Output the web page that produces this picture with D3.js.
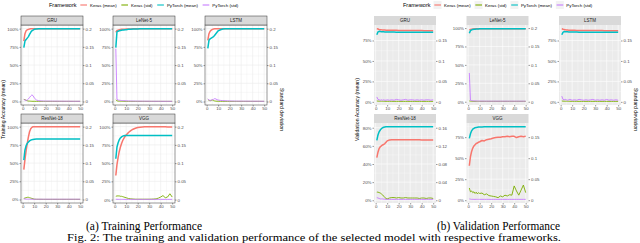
<!DOCTYPE html>
<html>
<head>
<meta charset="utf-8">
<script src="https://cdn.jsdelivr.net/npm/d3@7"></script>
<style>
body{margin:0;background:#fff}
svg{display:block}
text{font-family:"Liberation Sans",Arial,sans-serif}
.cap{font-family:"Liberation Serif","Times New Roman",serif}
</style>
</head>
<body>
<svg id="fig" width="640" height="243"></svg>
<script>

var epochs = [1,2,3,4,5,6,7,8,9,10, 12,14,16,18,20,22,24,26,28,30, 32,34,36,38,40,42,44,46,48,50];
var seriesNames = ["Keras (mean)", "Keras (std)", "PyTorch (mean)", "PyTorch (std)"];
var xTicks = [0, 10, 20, 30, 40, 50];
var accBreaks = [0, 0.25, 0.5, 0.75, 1];
var accBreaksResnetVal = [0, 0.2, 0.4, 0.6, 0.8];

// training
var trGruKerasMean = [0.83,0.93,0.97,0.985,0.99,0.995,0.998,1,1,1, 1,1,1,1,1,1,1,1,1,1, 1,1,1,1,1,1,1,1,1,1];
var trGruKerasStd = [0.006,0.005,0.003,0.002,0.0012,0.001,0.0008,0.0006,0.0005,0.0005, 0.0004,0.0004,0.0003,0.0003,0.0003,0.0003,0.0003,0.0003,0.0003,0.0003, 0.0003,0.0003,0.0003,0.0003,0.0003,0.0003,0.0003,0.0003,0.0003,0.0003];
var trGruTorchMean = [0.74,0.83,0.85,0.87,0.89,0.92,0.95,0.97,0.98,0.99, 0.995,0.998,1,1,1,1,1,1,1,1, 1,1,1,1,1,1,1,1,1,1];
var trGruTorchStd = [0.005,0.004,0.003,0.004,0.007,0.011,0.015,0.018,0.016,0.01, 0.004,0.002,0.0015,0.0012,0.001,0.001,0.001,0.0009,0.0009,0.0008, 0.0008,0.0008,0.0007,0.0007,0.0007,0.0007,0.0006,0.0006,0.0006,0.0006];

var trLenetKerasMean = [0.95,0.975,0.98,0.985,0.988,0.99,0.991,0.992,0.993,0.994, 0.995,0.996,0.997,0.998,0.998,0.999,0.999,1,1,1, 1,1,1,1,1,1,1,1,1,1];
var trLenetKerasStd = [0.005,0.002,0.0012,0.001,0.0008,0.0007,0.0006,0.0006,0.0005,0.0005, 0.0004,0.0004,0.0004,0.0004,0.0004,0.0004,0.0004,0.0004,0.0004,0.0004, 0.0004,0.0004,0.0004,0.0004,0.0004,0.0004,0.0004,0.0004,0.0004,0.0004];
var trLenetTorchMean = [0.74,0.955,0.965,0.97,0.975,0.978,0.98,0.982,0.984,0.986, 0.99,0.992,0.994,0.995,0.996,0.997,0.998,0.998,0.999,0.999, 1,1,1,1,1,1,1,1,1,1];
var trLenetTorchStd = [0.145,0.006,0.004,0.0035,0.003,0.0028,0.0025,0.0022,0.002,0.0018, 0.0015,0.0013,0.0012,0.0011,0.001,0.001,0.0009,0.0009,0.0008,0.0008, 0.0008,0.0007,0.0007,0.0007,0.0007,0.0006,0.0006,0.0006,0.0006,0.0006];

var trLstmKerasMean = [0.84,0.93,0.965,0.98,0.99,0.995,0.997,0.998,0.999,1, 1,1,1,1,1,1,1,1,1,1, 1,1,1,1,1,1,1,1,1,1];
var trLstmKerasStd = [0.006,0.003,0.002,0.003,0.004,0.0025,0.0015,0.001,0.0008,0.0007, 0.0006,0.0005,0.0005,0.0004,0.0004,0.0004,0.0004,0.0004,0.0004,0.0004, 0.0004,0.0004,0.0004,0.0004,0.0004,0.0004,0.0004,0.0004,0.0004,0.0004];
var trLstmTorchMean = [0.73,0.84,0.86,0.87,0.88,0.89,0.91,0.93,0.95,0.97, 0.985,0.995,0.998,1,1,1,1,1,1,1, 1,1,1,1,1,1,1,1,1,1];
var trLstmTorchStd = [0.007,0.004,0.003,0.004,0.005,0.006,0.008,0.007,0.005,0.004, 0.003,0.0025,0.002,0.0018,0.0015,0.0013,0.0012,0.0011,0.001,0.001, 0.001,0.0009,0.0009,0.0009,0.0008,0.0008,0.0008,0.0008,0.0007,0.0007];

var trResnetKerasMean = [0.41,0.55,0.67,0.77,0.86,0.93,0.97,0.99,0.998,1, 1,1,1,1,1,1,1,1,1,1, 1,1,1,1,1,1,1,1,1,1];
var trResnetKerasStd = [0.003,0.004,0.005,0.006,0.006,0.005,0.004,0.003,0.002,0.001, 0.0006,0.0005,0.0005,0.0004,0.0004,0.0004,0.0004,0.0004,0.0004,0.0004, 0.0004,0.0004,0.0004,0.0004,0.0004,0.0004,0.0004,0.0004,0.0004,0.0004];
var trResnetTorchMean = [0.54,0.68,0.74,0.77,0.79,0.805,0.815,0.82,0.825,0.828, 0.83,0.83,0.83,0.83,0.83,0.83,0.83,0.83,0.83,0.83, 0.83,0.83,0.83,0.83,0.83,0.83,0.83,0.83,0.83,0.83];
var trResnetTorchStd = [0.002,0.0015,0.0012,0.001,0.001,0.0009,0.0009,0.0008,0.0008,0.0008, 0.0008,0.0008,0.0008,0.0008,0.0008,0.0008,0.0008,0.0008,0.0008,0.0008, 0.0008,0.0008,0.0008,0.0008,0.0008,0.0008,0.0008,0.0008,0.0008,0.0008];

var trVggKerasMean = [0.33,0.48,0.58,0.66,0.72,0.77,0.81,0.84,0.865,0.885, 0.92,0.945,0.965,0.978,0.988,0.993,0.996,0.998,0.999,1, 1,1,1,1,0.999,0.998,0.997,0.996,0.995,0.995];
var trVggKerasStd = [0.009,0.01,0.01,0.01,0.009,0.009,0.008,0.007,0.006,0.005, 0.003,0.002,0.0015,0.001,0.001,0.001,0.001,0.001,0.001,0.001, 0.0012,0.0015,0.002,0.004,0.007,0.011,0.005,0.007,0.016,0.007];
var trVggTorchMean = [0.56,0.72,0.78,0.82,0.845,0.86,0.87,0.875,0.878,0.88, 0.88,0.88,0.88,0.88,0.88,0.88,0.88,0.88,0.88,0.88, 0.88,0.88,0.88,0.88,0.88,0.88,0.88,0.88,0.88,0.88];
var trVggTorchStd = [0.001,0.0008,0.0007,0.0006,0.0006,0.0006,0.0006,0.0006,0.0006,0.0006, 0.0006,0.0006,0.0006,0.0006,0.0006,0.0006,0.0006,0.0006,0.0006,0.0006, 0.0006,0.0006,0.0006,0.0006,0.0006,0.0006,0.0006,0.0006,0.0006,0.0006];

// validation
var vaGruKerasMean = [0.895,0.89,0.885,0.882,0.88,0.879,0.878,0.877,0.876,0.876, 0.875,0.875,0.874,0.874,0.873,0.873,0.873,0.872,0.872,0.872, 0.872,0.871,0.871,0.871,0.871,0.87,0.87,0.87,0.87,0.87];
var vaGruKerasStd = [0.002,0.0018,0.0016,0.0015,0.0015,0.0014,0.0014,0.0014,0.0013,0.0013, 0.0013,0.0013,0.0012,0.0012,0.0012,0.0012,0.0012,0.0012,0.0012,0.0012, 0.0012,0.0012,0.0012,0.0012,0.0012,0.0012,0.0012,0.0012,0.0012,0.0012];
var vaGruTorchMean = [0.82,0.855,0.862,0.86,0.858,0.857,0.856,0.855,0.855,0.854, 0.854,0.853,0.853,0.852,0.852,0.852,0.851,0.851,0.851,0.85, 0.85,0.85,0.85,0.85,0.85,0.85,0.85,0.85,0.85,0.85];
var vaGruTorchStd = [0.012,0.006,0.005,0.004,0.005,0.004,0.005,0.004,0.004,0.005, 0.004,0.005,0.004,0.006,0.005,0.004,0.005,0.006,0.004,0.005, 0.005,0.004,0.005,0.004,0.005,0.004,0.005,0.005,0.004,0.005];

var vaLenetKerasMean = [0.975,0.982,0.985,0.987,0.988,0.989,0.99,0.99,0.99,0.991, 0.991,0.991,0.991,0.991,0.992,0.992,0.992,0.992,0.992,0.992, 0.992,0.992,0.992,0.992,0.992,0.992,0.992,0.992,0.992,0.992];
var vaLenetKerasStd = [0.002,0.0015,0.0012,0.001,0.001,0.001,0.001,0.001,0.001,0.001, 0.001,0.001,0.001,0.001,0.001,0.001,0.001,0.001,0.001,0.001, 0.001,0.001,0.001,0.001,0.001,0.001,0.001,0.001,0.001,0.001];
var vaLenetTorchMean = [0.93,0.965,0.975,0.98,0.983,0.985,0.986,0.987,0.988,0.989, 0.99,0.99,0.99,0.99,0.99,0.99,0.99,0.99,0.99,0.99, 0.99,0.99,0.99,0.99,0.99,0.99,0.99,0.99,0.99,0.99];
var vaLenetTorchStd = [0.078,0.004,0.003,0.0025,0.002,0.002,0.002,0.0018,0.0018,0.0017, 0.0016,0.0016,0.0015,0.0015,0.0015,0.0015,0.0015,0.0015,0.0015,0.0015, 0.0015,0.0015,0.0015,0.0015,0.0015,0.0015,0.0015,0.0015,0.0015,0.0015];

var vaLstmKerasMean = [0.895,0.888,0.884,0.88,0.878,0.877,0.876,0.875,0.875,0.874, 0.874,0.873,0.873,0.873,0.872,0.872,0.872,0.872,0.871,0.871, 0.871,0.871,0.871,0.87,0.87,0.87,0.87,0.87,0.87,0.87];
var vaLstmKerasStd = [0.002,0.0018,0.0016,0.0015,0.0015,0.0014,0.0014,0.0014,0.0013,0.0013, 0.0013,0.0013,0.0012,0.0012,0.0012,0.0012,0.0012,0.0012,0.0012,0.0012, 0.0012,0.0012,0.0012,0.0012,0.0012,0.0012,0.0012,0.0012,0.0012,0.0012];
var vaLstmTorchMean = [0.82,0.85,0.86,0.858,0.857,0.856,0.855,0.855,0.854,0.854, 0.853,0.853,0.852,0.852,0.852,0.851,0.851,0.851,0.85,0.85, 0.85,0.85,0.85,0.85,0.85,0.85,0.85,0.85,0.85,0.85];
var vaLstmTorchStd = [0.014,0.006,0.005,0.006,0.005,0.004,0.005,0.006,0.005,0.004, 0.005,0.004,0.006,0.005,0.004,0.005,0.004,0.005,0.006,0.004, 0.005,0.004,0.005,0.004,0.006,0.004,0.005,0.004,0.005,0.004];

var vaResnetKerasMean = [0.47,0.53,0.57,0.59,0.60,0.61,0.615,0.625,0.64,0.655, 0.665,0.668,0.668,0.668,0.668,0.668,0.668,0.667,0.667,0.667, 0.667,0.667,0.667,0.667,0.666,0.666,0.666,0.666,0.666,0.666];
var vaResnetKerasStd = [0.018,0.018,0.017,0.016,0.014,0.012,0.009,0.006,0.004,0.003, 0.005,0.006,0.006,0.005,0.006,0.005,0.005,0.006,0.005,0.005, 0.005,0.005,0.005,0.004,0.005,0.005,0.004,0.005,0.005,0.004];
var vaResnetTorchMean = [0.66,0.72,0.755,0.775,0.79,0.8,0.805,0.808,0.81,0.81, 0.812,0.812,0.812,0.812,0.812,0.812,0.812,0.812,0.812,0.812, 0.812,0.812,0.812,0.812,0.812,0.812,0.812,0.812,0.812,0.812];
var vaResnetTorchStd = [0.006,0.005,0.004,0.003,0.003,0.003,0.0025,0.0025,0.002,0.002, 0.002,0.002,0.002,0.002,0.002,0.002,0.002,0.002,0.002,0.002, 0.002,0.002,0.002,0.002,0.002,0.002,0.002,0.002,0.002,0.002];

var vaVggKerasMean = [0.41,0.52,0.58,0.62,0.645,0.66,0.675,0.68,0.69,0.695, 0.71,0.705,0.72,0.725,0.73,0.74,0.745,0.75,0.75,0.755, 0.755,0.76,0.755,0.76,0.76,0.745,0.755,0.76,0.755,0.76];
var vaVggKerasStd = [0.029,0.02,0.022,0.018,0.02,0.016,0.019,0.015,0.018,0.016, 0.017,0.013,0.015,0.011,0.01,0.009,0.008,0.006,0.01,0.008, 0.012,0.01,0.013,0.012,0.034,0.022,0.012,0.024,0.036,0.018];
var vaVggTorchMean = [0.735,0.79,0.825,0.845,0.855,0.862,0.866,0.868,0.87,0.871, 0.872,0.873,0.874,0.874,0.875,0.875,0.875,0.875,0.875,0.875, 0.875,0.875,0.875,0.875,0.875,0.875,0.875,0.875,0.875,0.875];
var vaVggTorchStd = [0.003,0.0025,0.002,0.002,0.002,0.002,0.002,0.002,0.002,0.002, 0.002,0.002,0.002,0.002,0.002,0.002,0.002,0.002,0.002,0.002, 0.002,0.002,0.002,0.002,0.002,0.002,0.002,0.002,0.002,0.002];

/* figure layout */
var colors = d3.scaleOrdinal().domain(seriesNames).range(["#F8766D", "#7CAE00", "#00BFC4", "#C77CFF"]);

var figA = {
	theme: "bw", cols: [21, 113, 205], rows: [16, 114], w: 62, stripH: 9, panelH: 80,
	legendX: 49, yTitle: "Training Accuracy (mean)", yTitleX: 3, y2TitleX: 282,
	caption: "(a) Training Performance", capX: 86, capW: 116,
	panels: [
		{name: "GRU", s: [trGruKerasMean, trGruKerasStd, trGruTorchMean, trGruTorchStd], br: accBreaks},
		{name: "LeNet-5", s: [trLenetKerasMean, trLenetKerasStd, trLenetTorchMean, trLenetTorchStd], br: accBreaks},
		{name: "LSTM", s: [trLstmKerasMean, trLstmKerasStd, trLstmTorchMean, trLstmTorchStd], br: accBreaks},
		{name: "ResNet-18", s: [trResnetKerasMean, trResnetKerasStd, trResnetTorchMean, trResnetTorchStd], br: accBreaks},
		{name: "VGG", s: [trVggKerasMean, trVggKerasStd, trVggTorchMean, trVggTorchStd], br: accBreaks}
	]
};

var figB = {
	theme: "gray", cols: [374, 466.5, 559], rows: [16, 114], w: 62, stripH: 9, panelH: 80,
	legendX: 403, yTitle: "Validation Accuracy (mean)", yTitleX: 357, y2TitleX: 636,
	caption: "(b) Validation Performance", capX: 437, capW: 123,
	panels: [
		{name: "GRU", s: [vaGruKerasMean, vaGruKerasStd, vaGruTorchMean, vaGruTorchStd], br: accBreaks},
		{name: "LeNet-5", s: [vaLenetKerasMean, vaLenetKerasStd, vaLenetTorchMean, vaLenetTorchStd], br: accBreaks},
		{name: "LSTM", s: [vaLstmKerasMean, vaLstmKerasStd, vaLstmTorchMean, vaLstmTorchStd], br: accBreaks},
		{name: "ResNet-18", s: [vaResnetKerasMean, vaResnetKerasStd, vaResnetTorchMean, vaResnetTorchStd], br: accBreaksResnetVal},
		{name: "VGG", s: [vaVggKerasMean, vaVggKerasStd, vaVggTorchMean, vaVggTorchStd], br: accBreaks}
	]
};

var svg = d3.select("#fig");
svg.append("rect").attr("width", 640).attr("height", 243).attr("fill", "#fff");

var tickFont = 4.4, stripFont = 4.5, titleFont = 5.2;
var pctFmt = d3.format(".0%");
var sdFmt = function(b){ return String(+(b / 5).toFixed(3)); };

function styleAxis(ax){
	ax.select(".domain").remove();
	ax.selectAll(".tick line").attr("stroke", "#333").attr("stroke-width", 0.5);
	ax.selectAll(".tick text").attr("fill", "#4D4D4D").style("font-size", tickFont + "px")
		.attr("font-family", null);
}

function drawPanel(fig, p, i){
	var col = i % 3, row = Math.floor(i / 3);
	var g = svg.append("g")
		.attr("transform", "translate(" + fig.cols[col] + "," + fig.rows[row] + ")");
	var w = fig.w, sh = fig.stripH, ph = fig.panelH;
	var gray = fig.theme == "gray";

	// std is drawn on the secondary axis (mean / 5)
	var vals = [];
	p.s.forEach(function(arr, k){
		arr.forEach(function(v){ vals.push(k % 2 ? v * 5 : v); });
	});
	var ext = d3.extent(vals), pad = (ext[1] - ext[0]) * 0.05;
	var y = d3.scaleLinear().domain([ext[0] - pad, ext[1] + pad]).range([sh + ph, sh]);
	var x = d3.scaleLinear().domain([1 - 49 * 0.05, 50 + 49 * 0.05]).range([0, w]);

	var br = p.br.filter(function(b){ return b >= y.domain()[0] && b <= y.domain()[1]; });
	var step = p.br[1] - p.br[0];
	var minorY = p.br.map(function(b){ return b + step / 2; }).concat([p.br[0] - step / 2])
		.filter(function(b){ return b >= y.domain()[0] && b <= y.domain()[1]; });
	var minorX = xTicks.map(function(t){ return t + 5; }).concat([-5])
		.filter(function(t){ return t >= x.domain()[0] && t <= x.domain()[1]; });

	g.append("rect").attr("x", 0).attr("y", sh).attr("width", w).attr("height", ph)
		.attr("fill", gray ? "#EBEBEB" : "#fff");

	var gridCol = gray ? "#fff" : "#EBEBEB";
	g.selectAll(".mnx").data(minorX).enter().append("line")
		.attr("x1", function(d){ return x(d); }).attr("x2", function(d){ return x(d); })
		.attr("y1", sh).attr("y2", sh + ph)
		.attr("stroke", gridCol).attr("stroke-width", 0.3);
	g.selectAll(".mny").data(minorY).enter().append("line")
		.attr("y1", function(d){ return y(d); }).attr("y2", function(d){ return y(d); })
		.attr("x1", 0).attr("x2", w)
		.attr("stroke", gridCol).attr("stroke-width", 0.3);
	g.selectAll(".mjx").data(xTicks).enter().append("line")
		.attr("x1", function(d){ return x(d); }).attr("x2", function(d){ return x(d); })
		.attr("y1", sh).attr("y2", sh + ph)
		.attr("stroke", gridCol).attr("stroke-width", 0.6);
	g.selectAll(".mjy").data(br).enter().append("line")
		.attr("y1", function(d){ return y(d); }).attr("y2", function(d){ return y(d); })
		.attr("x1", 0).attr("x2", w)
		.attr("stroke", gridCol).attr("stroke-width", 0.6);

	var line = d3.line().x(function(d){ return x(d[0]); }).y(function(d){ return y(d[1]); });
	p.s.forEach(function(arr, k){
		var pts = epochs.map(function(e, j){ return [e, k % 2 ? arr[j] * 5 : arr[j]]; });
		g.append("path").datum(pts)
			.attr("d", line)
			.attr("fill", "none")
			.attr("stroke", colors(seriesNames[k]))
			.attr("stroke-width", k % 2 ? 0.9 : 1.5)
			.attr("stroke-linejoin", "round");
	});

	if (!gray) {
		g.append("rect").attr("x", 0).attr("y", sh).attr("width", w).attr("height", ph)
			.attr("fill", "none").attr("stroke", "#333").attr("stroke-width", 0.5);
	}

	// strip
	g.append("rect").attr("x", 0).attr("y", 0).attr("width", w).attr("height", sh)
		.attr("fill", "#D9D9D9")
		.attr("stroke", gray ? "none" : "#333").attr("stroke-width", 0.5);
	g.append("text").attr("x", w / 2).attr("y", sh / 2).attr("dy", "0.35em")
		.attr("text-anchor", "middle").attr("fill", "#1A1A1A")
		.style("font-size", stripFont + "px").text(p.name);

	var left = g.append("g")
		.call(d3.axisLeft(y).tickValues(br).tickFormat(pctFmt).tickSize(1.5).tickPadding(1));
	styleAxis(left);
	var right = g.append("g").attr("transform", "translate(" + w + ",0)")
		.call(d3.axisRight(y).tickValues(br).tickFormat(sdFmt).tickSize(1.5).tickPadding(1));
	styleAxis(right);
	var bottom = g.append("g").attr("transform", "translate(0," + (sh + ph) + ")")
		.call(d3.axisBottom(x).tickValues(xTicks).tickFormat(d3.format("d")).tickSize(1.5).tickPadding(0.8));
	styleAxis(bottom);
}

function drawLegend(fig){
	var lg = svg.append("g").attr("transform", "translate(" + fig.legendX + ",5)");
	var title = lg.append("text").attr("dy", "0.35em").style("font-size", "5.5px")
		.attr("fill", "#000").text("Framework");
	var cx = title.node().getComputedTextLength() + 3.5;
	seriesNames.forEach(function(n){
		if (fig.theme == "gray") {
			lg.append("rect").attr("x", cx - 0.5).attr("y", -4).attr("width", 8).attr("height", 8)
				.attr("fill", "#F2F2F2");
		}
		lg.append("line").attr("x1", cx + 0.3).attr("x2", cx + 7)
			.attr("stroke", colors(n)).attr("stroke-width", 1.1);
		var t = lg.append("text").attr("x", cx + 10).attr("dy", "0.35em")
			.style("font-size", tickFont + "px").attr("fill", "#000").text(n);
		cx += 10 + t.node().getComputedTextLength() + 4.4;
	});
}

function drawFigure(fig){
	fig.panels.forEach(function(p, i){ drawPanel(fig, p, i); });
	drawLegend(fig);
	var midY = (fig.rows[0] + fig.rows[1] + fig.stripH + fig.panelH) / 2;
	svg.append("text")
		.attr("transform", "translate(" + fig.yTitleX + "," + midY + ") rotate(-90)")
		.attr("text-anchor", "middle").attr("dy", "0.35em")
		.style("font-size", titleFont + "px").text(fig.yTitle);
	svg.append("text")
		.attr("transform", "translate(" + fig.y2TitleX + "," + midY + ") rotate(90)")
		.attr("text-anchor", "middle").attr("dy", "0.35em")
		.style("font-size", titleFont + "px").text("Standard deviation");
	svg.append("text").attr("class", "cap")
		.attr("x", fig.capX).attr("y", 230)
		.attr("textLength", fig.capW).attr("lengthAdjust", "spacingAndGlyphs")
		.style("font-size", "11.5px").text(fig.caption);
}

drawFigure(figA);
drawFigure(figB);

svg.append("text").attr("class", "cap")
	.attr("x", 67).attr("y", 240.5)
	.attr("textLength", 494).attr("lengthAdjust", "spacingAndGlyphs")
	.style("font-size", "10.5px")
	.text("Fig. 2: The training and validation performance of the selected model with respective frameworks.");

</script>
</body>
</html>
